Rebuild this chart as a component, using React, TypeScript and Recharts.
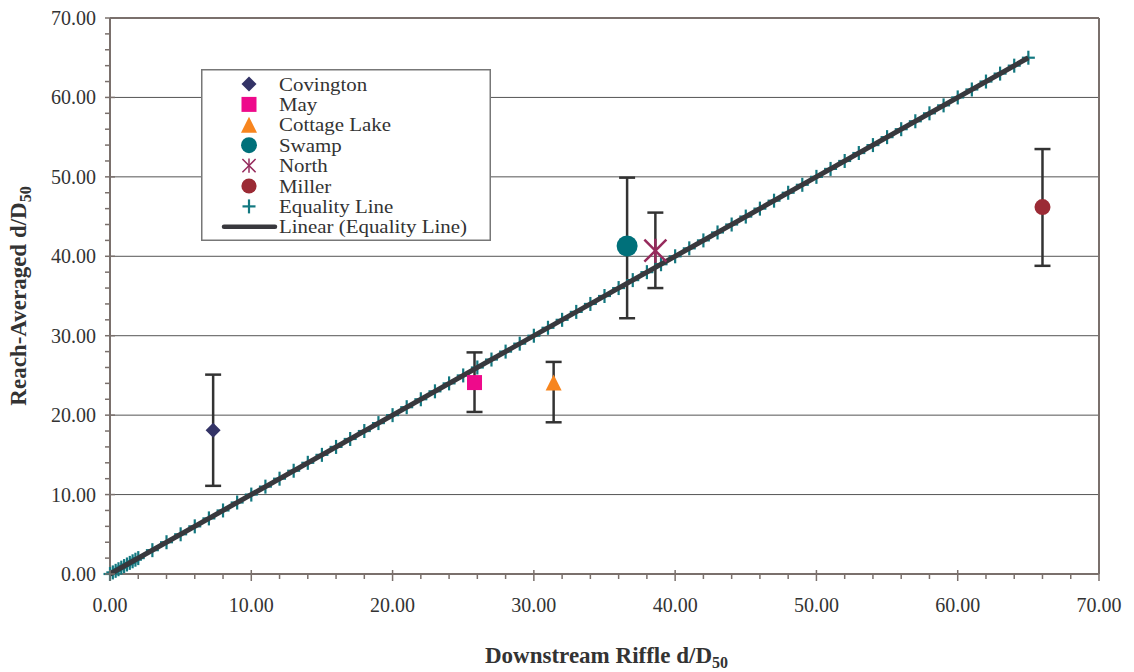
import React from 'react';
import {
  ScatterChart,
  Scatter,
  XAxis,
  YAxis,
  CartesianGrid,
  ErrorBar,
  ReferenceLine,
  Legend,
  Label
} from 'recharts';

// sites measured
const siteNames = ['Covington', 'May', 'Cottage Lake', 'Swamp', 'North', 'Miller'];
const riffleValues = [7.3, 25.8, 31.4, 36.6, 38.6, 66.0];
const reachValues = [18.1, 24.1, 24.1, 41.3, 40.7, 46.2];
const errLow = [7.0, 3.7, 5.0, 9.1, 4.7, 7.4];
const errHigh = [7.0, 3.8, 2.6, 8.6, 4.8, 7.3];
const siteColors = ['#333366', '#ee0a8b', '#f7851e', '#00707a', '#962a5c', '#9b2b35'];
const siteShapes = ['diamond', 'square', 'triangle', 'bigCircle', 'star', 'circle'];

// equality line markers (x = y)
const equalityValues = [
  0, 0.2, 0.4, 0.6, 0.8, 1.0, 1.2, 1.4, 1.6, 1.8, 2.0,
  3, 4, 5, 6, 7, 8, 9, 10, 11, 12, 13, 14, 15, 16, 17, 18, 19, 20,
  21, 22, 23, 24, 25, 26, 27, 28, 29, 30, 31, 32, 33, 34, 35, 36, 37, 38, 39, 40,
  41, 42, 43, 44, 45, 46, 47, 48, 49, 50, 51, 52, 53, 54, 55, 56, 57, 58, 59, 60,
  61, 62, 63, 64, 65
];
const linearX = [0, 65];
const linearY = [0, 65];

const majorTicks = [0, 10, 20, 30, 40, 50, 60, 70];
const minorTicks = [
  0, 2, 4, 6, 8, 10, 12, 14, 16, 18, 20, 22, 24, 26, 28, 30, 32, 34, 36,
  38, 40, 42, 44, 46, 48, 50, 52, 54, 56, 58, 60, 62, 64, 66, 68, 70
];
const gridValues = [10, 20, 30, 40, 50, 60];

const FONT = '"Liberation Serif", "Times New Roman", serif';
const AXIS = '#7a706c';
const TEAL = '#127880';
const LINE = '#38383d';

const siteData = siteNames.map((name, i) => [
  { x: riffleValues[i], y: reachValues[i], err: [errLow[i], errHigh[i]] }
]);
const equalityData = equalityValues.map((v) => ({ x: v, y: v }));
const linearData = linearX.map((v, i) => ({ x: v, y: linearY[i] }));

function Marker({ kind, color, cx, cy }: { kind: string; color: string; cx: number; cy: number }) {
  switch (kind) {
    case 'diamond':
      return <polygon points={`${cx},${cy - 7.5} ${cx + 7.5},${cy} ${cx},${cy + 7.5} ${cx - 7.5},${cy}`} fill={color} />;
    case 'square':
      return <rect x={cx - 7.5} y={cy - 7.5} width={15} height={15} fill={color} />;
    case 'triangle':
      return <polygon points={`${cx},${cy - 8} ${cx + 8},${cy + 8} ${cx - 8},${cy + 8}`} fill={color} />;
    case 'bigCircle':
      return <circle cx={cx} cy={cy} r={10.5} fill={color} />;
    case 'circle':
      return <circle cx={cx} cy={cy} r={8} fill={color} />;
    case 'star':
      return (
        <g stroke={color} strokeWidth={2.5}>
          <line x1={cx - 11} y1={cy - 11} x2={cx + 11} y2={cy + 11} />
          <line x1={cx - 11} y1={cy + 11} x2={cx + 11} y2={cy - 11} />
          <line x1={cx} y1={cy - 12} x2={cx} y2={cy + 12} />
        </g>
      );
    case 'plus':
      return (
        <g stroke={color} strokeWidth={2.2}>
          <line x1={cx - 6.5} y1={cy} x2={cx + 6.5} y2={cy} />
          <line x1={cx} y1={cy - 7} x2={cx} y2={cy + 7} />
        </g>
      );
    default:
      return <g />;
  }
}

const XTick = (props: any) => {
  const { x, y, payload } = props;
  const major = majorTicks.includes(payload.value);
  return (
    <g>
      <line x1={x} x2={x} y1={major ? y - 4 : y} y2={y + (major ? 7 : 5)} stroke={AXIS} strokeWidth={1.5} />
      {major && (
        <text x={x} y={y + 38} textAnchor="middle" fontFamily={FONT} fontSize={20} fill="#333">
          {payload.value.toFixed(2)}
        </text>
      )}
    </g>
  );
};

const YTick = (props: any) => {
  const { x, y, payload } = props;
  const major = majorTicks.includes(payload.value);
  return (
    <g>
      <line x1={x - 5} x2={major ? x + 5 : x} y1={y} y2={y} stroke={AXIS} strokeWidth={1.5} />
      {major && (
        <text x={x - 14} y={y + 7} textAnchor="end" fontFamily={FONT} fontSize={20} fill="#333">
          {payload.value.toFixed(2)}
        </text>
      )}
    </g>
  );
};

const legendItems = [
  ...siteNames.map((n, i) => ({ name: n, kind: siteShapes[i], color: siteColors[i] })),
  { name: 'Equality Line', kind: 'plus', color: TEAL },
  { name: 'Linear (Equality Line)', kind: 'line', color: LINE }
];

const LegendBox = () => (
  <svg width={290} height={172} style={{ display: 'block' }}>
    <rect x={0.75} y={0.75} width={288.5} height={170.5} fill="#fff" stroke="#777" strokeWidth={1.5} />
    {legendItems.map((it, i) => {
      const cy = 15 + i * 20.4;
      const scale = it.kind === 'star' ? 0.6 : it.kind === 'bigCircle' ? 0.76 : it.kind === 'circle' ? 0.95 : 1;
      return (
        <g key={it.name}>
          {it.kind === 'line' ? (
            <line x1={23} x2={74} y1={cy} y2={cy} stroke={it.color} strokeWidth={4.5} strokeLinecap="round" />
          ) : (
            <g transform={`translate(48 ${cy}) scale(${scale})`}>
              <Marker kind={it.kind} color={it.color} cx={0} cy={0} />
            </g>
          )}
          <text
            transform={`translate(78 ${cy + 6.5}) scale(1.1 1)`}
            fontFamily={FONT}
            fontSize={19}
            fill="#333"
          >
            {it.name}
          </text>
        </g>
      );
    })}
  </svg>
);

export default function App() {
  return (
    <div style={{ position: 'absolute', left: 0, top: 0, background: '#fff' }}>
      <ScatterChart width={1134} height={672} margin={{ top: 18, right: 35, left: 0, bottom: 0 }}>
        <CartesianGrid horizontal vertical={false} horizontalValues={gridValues} stroke="#555" strokeWidth={1} />
        <XAxis
          type="number"
          dataKey="x"
          domain={[0, 70]}
          ticks={minorTicks}
          interval={0}
          height={98}
          tickSize={0}
          tickMargin={0}
          tickLine={false}
          axisLine={{ stroke: AXIS, strokeWidth: 2 }}
          tick={<XTick />}
        >
          <Label
            content={({ viewBox }: any) => (
              <text
                x={viewBox.x + viewBox.width / 2 + 2}
                y={viewBox.y + 89}
                textAnchor="middle"
                fontFamily={FONT}
                fontSize={23}
                fontWeight="bold"
                fill="#333"
              >
                Downstream Riffle d/D
                <tspan fontSize={16} dy={5}>50</tspan>
              </text>
            )}
          />
        </XAxis>
        <YAxis
          type="number"
          dataKey="y"
          domain={[0, 70]}
          ticks={minorTicks}
          interval={0}
          width={110}
          tickSize={0}
          tickMargin={0}
          tickLine={false}
          axisLine={{ stroke: AXIS, strokeWidth: 2 }}
          tick={<YTick />}
        >
          <Label
            content={({ viewBox }: any) => {
              const cx = 26;
              const cy = viewBox.y + viewBox.height / 2;
              return (
                <text
                  x={cx}
                  y={cy}
                  transform={`rotate(-90 ${cx} ${cy})`}
                  textAnchor="middle"
                  fontFamily={FONT}
                  fontSize={23}
                  fontWeight="bold"
                  fill="#333"
                >
                  Reach-Averaged d/D
                  <tspan fontSize={16} dy={5}>50</tspan>
                </text>
              );
            }}
          />
        </YAxis>
        <ReferenceLine y={70} stroke={AXIS} strokeWidth={2} />
        <ReferenceLine x={70} stroke={AXIS} strokeWidth={2} />
        <Legend
          layout="horizontal"
          verticalAlign="middle"
          align="center"
          wrapperStyle={{ left: 201, top: 69, width: 290, height: 172 }}
          content={() => <LegendBox />}
        />
        <Scatter
          name="Equality Line"
          data={equalityData}
          isAnimationActive={false}
          shape={(p: any) => <Marker kind="plus" color={TEAL} cx={p.cx} cy={p.cy} />}
        />
        <Scatter
          name="Linear (Equality Line)"
          data={linearData}
          isAnimationActive={false}
          line={{ stroke: LINE, strokeWidth: 5 }}
          lineType="joint"
          shape={() => <g />}
        />
        {siteNames.map((name, i) => (
          <Scatter
            key={name}
            name={name}
            data={siteData[i]}
            isAnimationActive={false}
            shape={(p: any) => <Marker kind={siteShapes[i]} color={siteColors[i]} cx={p.cx} cy={p.cy} />}
          >
            <ErrorBar dataKey="err" direction="y" width={8} stroke="#333" strokeWidth={2.5} />
          </Scatter>
        ))}
      </ScatterChart>
    </div>
  );
}
